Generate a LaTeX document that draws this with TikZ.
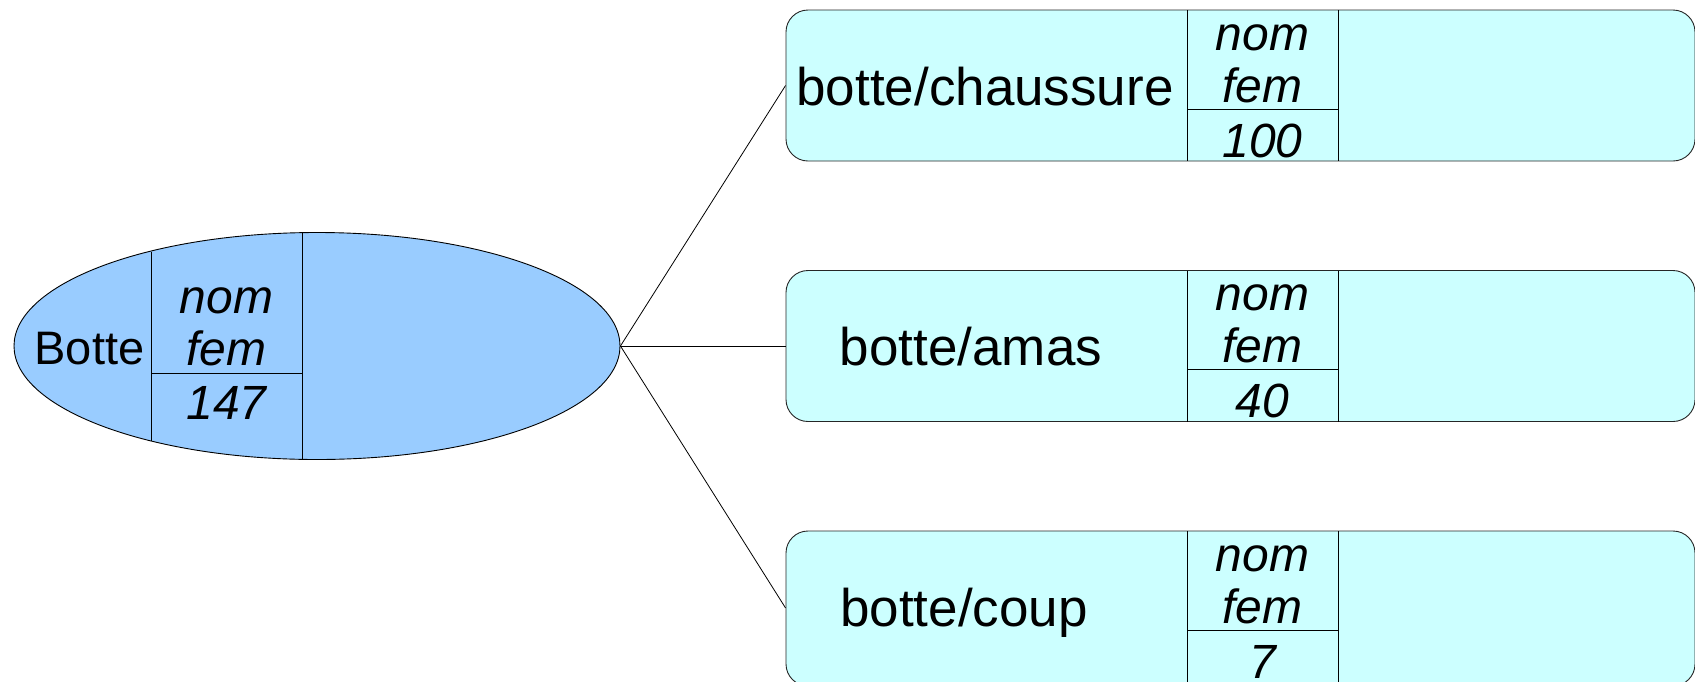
\documentclass[tikz,border=0pt]{standalone}
\usepackage{fontspec}
\setmainfont{Liberation Sans}
\usetikzlibrary{shapes.geometric}
\definecolor{rootfill}{HTML}{99CCFF}
\definecolor{sensefill}{HTML}{CCFFFF}
\begin{document}
\begin{tikzpicture}[x=1pt,y=-1pt,line width=0.9pt,
  rootshape/.style={ellipse,draw=black,fill=rootfill,minimum width=606pt,minimum height=227pt,inner sep=0pt},
  sensebox/.style={rectangle,rounded corners=22pt,draw=black!85,fill=sensefill,minimum width=909pt,inner sep=0pt},
  maintext/.style={anchor=base,inner sep=0pt,font=\fontsize{53}{60}\selectfont},
  roottext/.style={anchor=base,inner sep=0pt,font=\fontsize{47}{54}\selectfont},
  celltext/.style={anchor=base,inner sep=0pt,font=\fontsize{48}{55}\selectfont\itshape},
  cellline/.style={draw=black,line width=0.9pt},
  link/.style={draw=black,line width=0.8pt}]
\useasboundingbox (0,0) rectangle (1695,681);
% root
\node[rootshape] (root) at (317,346) {};
\draw[cellline] (151,251.5) -- (151,440.5);
\draw[cellline] (302,233.1) -- (302,458.9);
\draw[cellline] (151,373) -- (302,373);
\node[roottext] (rlab) at (89.5,364) {Botte};
\node[celltext] (rnom) at (226.5,313) {nom};
\node[celltext] (rfem) at (226.5,365) {fem};
\node[celltext] (rnum) at (226.5,419) {147};
% sense boxes
\foreach \i/\t/\h/\lab/\num/\lx in {1/10/151/botte\slash chaussure/100/985, 2/270.5/151/botte\slash amas/40/971, 3/531/155/botte\slash coup/7/964}{
  \node[sensebox,minimum height=\h pt] (b\i) at (1240.5,\t+\h/2) {};
  \draw[cellline] (1187,\t) -- (1187,\t+\h);
  \draw[cellline] (1338,\t) -- (1338,\t+\h);
  \draw[cellline] (1187,\t+99) -- (1338,\t+99);
  \node[maintext] (l\i) at (\lx,\t+95) {\lab};
  \node[celltext] (n\i) at (1262.5,\t+40) {nom};
  \node[celltext] (f\i) at (1262.5,\t+92) {fem};
  \node[celltext] (c\i) at (1262.5,\t+147) {\num};
}
\coordinate (e3) at (b3.west |- 0,608);
\draw[link] (root.east) -- (b1.west);
\draw[link] (root.east) -- (b2.west);
\draw[link] (root.east) -- (e3);
\end{tikzpicture}
\end{document}
